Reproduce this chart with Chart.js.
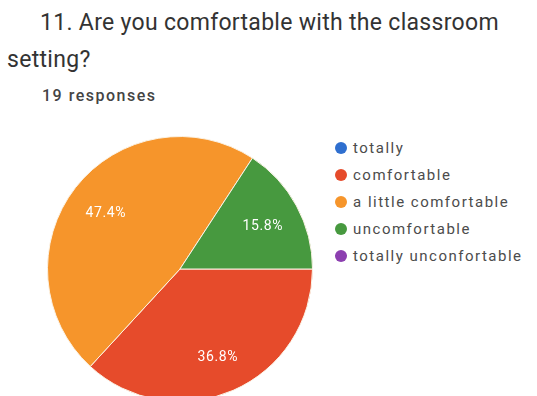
<!DOCTYPE html>
<html>
<head>
<meta charset="utf-8">
<script src="https://cdn.jsdelivr.net/npm/chart.js@4"></script>
<style>
    body { margin: 0; background: #fff; font-family: Roboto, Arial, sans-serif; }
    #page { position: relative; width: 537px; height: 396px; overflow: hidden; }
    .question { position: absolute; left: 7px; top: 4px; width: 525px; font-size: 23px; line-height: 37px; color: #333; text-indent: 33px; letter-spacing: 0.3px; }
    .responses { position: absolute; left: 42px; top: 86px; font-size: 16px; color: #444; font-weight: 500; letter-spacing: 1.5px; }
    #pieWrap { position: absolute; left: 47px; top: 136px; width: 266px; height: 266px; }
    #legend { position: absolute; left: 335px; top: 134px; margin: 0; padding: 0; list-style: none; }
    #legend li { height: 27px; display: flex; align-items: center; font-size: 15px; color: #4c4c4c; letter-spacing: 1.5px; white-space: nowrap; }
    #legend li span { width: 12px; height: 12px; border-radius: 50%; margin-right: 6px; flex: none; }
</style>
</head>
<body>
<div id="page">
    <div class="question">11. Are you comfortable with the classroom setting?</div>
    <div class="responses">19 responses</div>
    <div id="pieWrap"><canvas id="answersChart"></canvas></div>
    <ul id="legend"></ul>
</div>
<script>
    const answers = ["totally", "comfortable", "a little comfortable", "uncomfortable", "totally unconfortable"];
    const counts = [0, 7, 9, 3, 0];
    const sliceColors = ["#2f6fcf", "#e64b2b", "#f6952b", "#47993f", "#8c3fb0"];

    // percentage text inside each slice
    const sliceLabels = {
        id: "sliceLabels",
        afterDatasetsDraw(chart) {
            const ctx = chart.ctx;
            const total = counts.reduce((a, b) => a + b, 0);
            chart.getDatasetMeta(0).data.forEach((arc, i) => {
                if (!counts[i]) return;
                const mid = (arc.startAngle + arc.endAngle) / 2;
                const r = arc.outerRadius * 0.71;
                ctx.save();
                ctx.fillStyle = "#fff";
                ctx.font = "14px Roboto, Arial, sans-serif";
                ctx.letterSpacing = "0.6px";
                ctx.textAlign = "center";
                ctx.textBaseline = "middle";
                ctx.fillText((counts[i] / total * 100).toFixed(1) + "%", arc.x + Math.cos(mid) * r, arc.y + Math.sin(mid) * r + 2);
                ctx.restore();
            });
        }
    };

    // legend list in html, filled from the chart's own legend items
    const htmlLegend = {
        id: "htmlLegend",
        afterUpdate(chart) {
            const list = document.getElementById("legend");
            list.innerHTML = "";
            chart.options.plugins.legend.labels.generateLabels(chart).forEach(item => {
                const li = document.createElement("li");
                const dot = document.createElement("span");
                dot.style.background = item.fillStyle;
                li.appendChild(dot);
                li.appendChild(document.createTextNode(item.text));
                list.appendChild(li);
            });
        }
    };

    new Chart(document.getElementById("answersChart"), {
        type: "pie",
        data: {
            labels: answers,
            datasets: [{
                data: counts,
                backgroundColor: sliceColors,
                borderColor: "#fbf3e6",
                borderWidth: 1
            }]
        },
        options: {
            responsive: true,
            maintainAspectRatio: false,
            animation: false,
            rotation: 90,
            layout: { padding: 0 },
            plugins: {
                tooltip: { enabled: false },
                legend: { display: false }
            }
        },
        plugins: [sliceLabels, htmlLegend]
    });
</script>
</body>
</html>
